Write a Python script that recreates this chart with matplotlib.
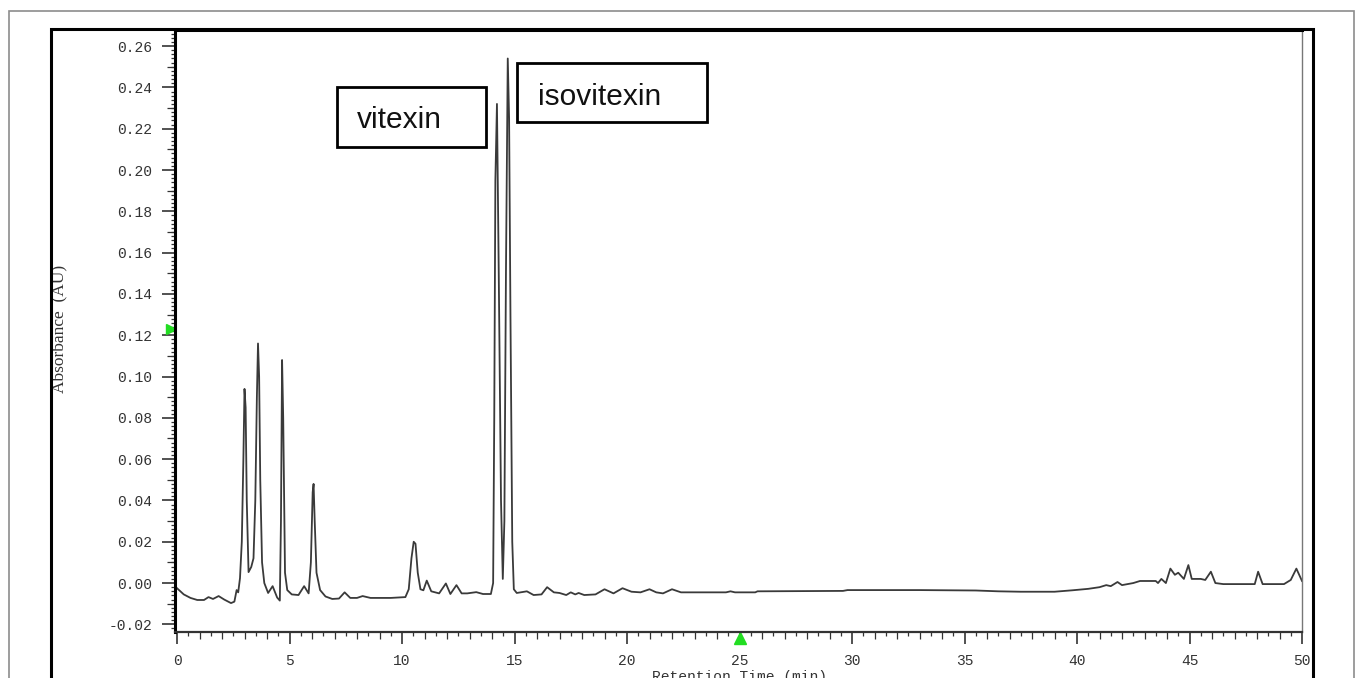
import matplotlib
matplotlib.use("Agg")
import matplotlib.pyplot as plt
from matplotlib.patches import Rectangle
from matplotlib.ticker import MultipleLocator
import numpy as np

# chromatogram: retention time (min) / absorbance (AU)
time = [0.00, 0.30, 0.60, 0.90, 1.20, 1.40, 1.60, 1.85, 2.10, 2.40, 2.55, 2.65,
        2.72, 2.80, 2.88, 2.95, 3.00, 3.05, 3.10, 3.18, 3.30, 3.40, 3.48, 3.55,
        3.60, 3.65, 3.70, 3.78, 3.88, 4.05, 4.25, 4.45, 4.57, 4.62, 4.67, 4.72,
        4.80, 4.90, 5.10, 5.40, 5.65, 5.85, 5.95, 6.03, 6.07, 6.12, 6.20, 6.36,
        6.60, 6.90, 7.20, 7.45, 7.70, 8.00, 8.25, 8.60, 9.50, 10.15, 10.30,
        10.42, 10.52, 10.60, 10.70, 10.82, 10.95, 11.10, 11.30, 11.65, 11.95,
        12.15, 12.42, 12.65, 12.90, 13.30, 13.60, 13.95, 14.05, 14.10, 14.15,
        14.22, 14.30, 14.40, 14.48, 14.55, 14.62, 14.70, 14.76, 14.82, 14.90,
        14.97, 15.10, 15.55, 15.85, 16.20, 16.45, 16.75, 17.00, 17.30, 17.50,
        17.70, 17.85, 18.10, 18.60, 19.00, 19.40, 19.80, 20.20, 20.60, 21.00,
        21.30, 21.60, 22.00, 22.40, 24.40, 24.60, 24.80, 25.70, 25.80, 29.60,
        29.80, 33.00, 35.50, 36.50, 37.50, 39.00, 39.80, 40.50, 41.00, 41.30,
        41.50, 41.80, 42.00, 42.50, 42.80, 43.50, 43.60, 43.75, 43.95, 44.15,
        44.35, 44.50, 44.75, 44.95, 45.10, 45.50, 45.70, 45.95, 46.15, 46.50,
        47.90, 48.05, 48.25, 49.20, 49.50, 49.75, 50.00]
absorbance = [-0.0025, -0.0055, -0.0072, -0.0082, -0.0082, -0.0068, -0.0077,
              -0.0063, -0.0080, -0.0097, -0.0090, -0.0034, -0.0045, 0.0024,
              0.020, 0.060, 0.094, 0.085, 0.040, 0.0053, 0.0078, 0.012, 0.040,
              0.090, 0.116, 0.100, 0.050, 0.010, 0.000, -0.0048, -0.0015,
              -0.0070, -0.0085, 0.030, 0.108, 0.080, 0.005, -0.0034, -0.0055,
              -0.0058, -0.0015, -0.0050, 0.010, 0.044, 0.048, 0.030, 0.005,
              -0.0034, -0.0065, -0.0077, -0.0075, -0.0045, -0.0072, -0.0072,
              -0.0063, -0.0072, -0.0072, -0.0068, -0.0030, 0.012, 0.020, 0.019,
              0.005, -0.0030, -0.0035, 0.0012, -0.0040, -0.0050, -0.0002,
              -0.0053, -0.0010, -0.0050, -0.0050, -0.0044, -0.0053, -0.0053,
              0.000, 0.080, 0.195, 0.232, 0.150, 0.040, 0.002, 0.030, 0.150,
              0.254, 0.225, 0.130, 0.020, -0.0030, -0.0048, -0.0040, -0.0058,
              -0.0055, -0.0020, -0.0045, -0.0048, -0.0058, -0.0045, -0.0055,
              -0.0048, -0.0058, -0.0055, -0.0030, -0.0050, -0.0025, -0.0042,
              -0.0045, -0.0030, -0.0045, -0.0050, -0.0030, -0.0045, -0.0045,
              -0.0040, -0.0045, -0.0045, -0.0040, -0.0038, -0.0034, -0.0034,
              -0.0036, -0.0040, -0.0042, -0.0042, -0.0035, -0.0028, -0.0020,
              -0.0010, -0.0015, 0.0005, -0.0010, 0.000, 0.0010, 0.0010, 0.000,
              0.0020, 0.000, 0.0070, 0.0040, 0.0050, 0.0020, 0.0087, 0.0020,
              0.0020, 0.0015, 0.0055, 0.000, -0.0005, -0.0005, 0.0055, -0.0005,
              -0.0005, 0.0015, 0.0070, 0.0010]

peak_labels = ["vitexin", "isovitexin"]
y_ticks = np.arange(-0.02, 0.261, 0.02)
x_ticks = np.arange(0, 51, 5)

W, H = 1355, 678
fig = plt.figure(figsize=(W / 100, H / 100), dpi=100)
ax = fig.add_axes([175 / W, 1 - 632 / H, 1127 / W, 602 / H])

# outer frames (cut by the bottom of the image)
fig.add_artist(Rectangle((9 / W, -0.2), 1345 / W, 1.2 - 11 / H,
                         transform=fig.transFigure, fill=False,
                         edgecolor="#8c8c8c", linewidth=1.2))
fig.add_artist(Rectangle((51 / W, -0.2), 1262 / W, 1.2 - 29 / H,
                         transform=fig.transFigure, fill=False,
                         edgecolor="black", linewidth=2.2))

ax.plot(time, absorbance, color="#3a3a3a", linewidth=1.3)

ax.set_xlim(-0.089, 50.0)
ax.set_ylim(-0.0237, 0.2678)

mono = "Liberation Mono"
ax.set_yticks(y_ticks)
ax.set_yticklabels([f"{v:.2f}" for v in y_ticks], family=mono, fontsize=10.5,
                   color="#333333")
ax.set_xticks(x_ticks)
ax.set_xticklabels([str(v) for v in x_ticks], family=mono, fontsize=10.5,
                   color="#333333")
ax.yaxis.set_minor_locator(MultipleLocator(0.002))
ax.xaxis.set_minor_locator(MultipleLocator(1))
ax.tick_params(axis="y", which="major", length=9.4, width=1.2, pad=7,
               color="#333333")
ax.tick_params(axis="y", which="minor", length=3, width=0.9, color="#333333")
ax.tick_params(axis="x", which="major", length=8.6, width=1.2, pad=7,
               color="#333333")
ax.tick_params(axis="x", which="minor", length=5, width=0.9, color="#333333")

# extra tick levels (half minutes, 0.01 AU)
secx = ax.secondary_xaxis("bottom")
secx.set_xticks(np.arange(0.5, 50, 1.0))
secx.set_xticklabels([])
secx.tick_params(length=3, width=0.9, color="#333333")
secx.spines["bottom"].set_visible(False)
secy = ax.secondary_yaxis("left")
secy.set_yticks(np.arange(-0.01, 0.26, 0.02))
secy.set_yticklabels([])
secy.tick_params(length=5.5, width=0.9, color="#333333")
secy.spines["left"].set_visible(False)

ax.spines["left"].set_linewidth(2.2)
ax.spines["left"].set_color("black")
ax.spines["bottom"].set_linewidth(1.6)
ax.spines["bottom"].set_color("#333333")
ax.spines["top"].set_linewidth(2.2)
ax.spines["top"].set_color("black")
ax.spines["right"].set_linewidth(1.0)
ax.spines["right"].set_color("#777777")

ax.set_ylabel("Absorbance  (AU)", family="Liberation Serif", fontsize=12.5,
              color="#333333")
ax.yaxis.set_label_coords(-0.0955, 0.503)
ax.set_xlabel("Retention Time (min)", family=mono, fontsize=10.5,
              color="#333333")
ax.xaxis.set_label_coords(0.5013, -0.063)

# green markers on the axes
ax.plot([25], [-0.0264], marker="^", color="#22dd22", markersize=8,
        clip_on=False, linestyle="none")
ax.plot([-0.25], [0.123], marker=">", color="#22dd22", markersize=7,
        clip_on=False, linestyle="none")

# peak label boxes
boxes = [(7.11, 0.2111, 6.62, 0.0291), (15.11, 0.2232, 8.45, 0.0286)]
text_pos = [(8.0, 0.2203), (16.04, 0.2315)]
for lab, (bx, by, bw, bh), (tx, ty) in zip(peak_labels, boxes, text_pos):
    ax.add_patch(Rectangle((bx, by), bw, bh, fill=False, edgecolor="black",
                           linewidth=2.0, zorder=3))
    ax.text(tx, ty, lab, family="Liberation Sans", fontsize=21.5,
            va="baseline", ha="left", color="#111111")

fig.savefig("out.png", dpi=100)
